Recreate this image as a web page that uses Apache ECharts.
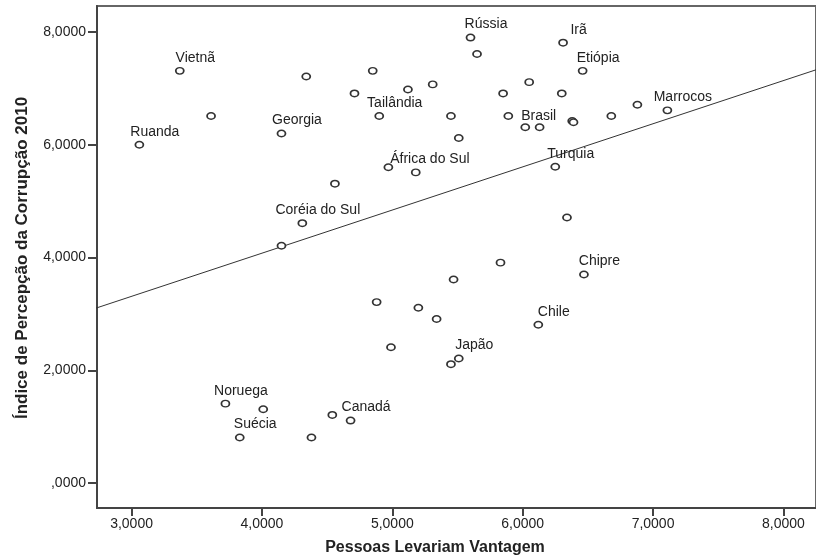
<!DOCTYPE html>
<html>
<head>
<meta charset="utf-8">
<script src="https://cdn.jsdelivr.net/npm/echarts@6/dist/echarts.min.js"></script>
<style>
  html, body { margin: 0; padding: 0; background: #fff; }
  #chart { width: 816px; height: 558px; }
</style>
</head>
<body>
<div id="chart"></div>
<script>
// ---- Data ----
const countryNames = [
  'Ruanda', 'Vietnã', '', 'Georgia', '', '', '', 'Tailândia', '', '',
  'África do Sul', '', '', 'Coréia do Sul', '', '', '', 'Rússia', '', '',
  '', 'Brasil', '', '', '', 'Irã', 'Etiópia', '', '', '',
  '', 'Marrocos', 'Turquia', '', 'Chipre', '', '', 'Chile', '', '',
  '', '', 'Japão', '', 'Noruega', '', 'Suécia', '', '', 'Canadá'
];
const xValues = [
  3.06, 3.37, 3.61, 4.15, 4.34, 4.71, 4.85, 4.90, 5.12, 5.31,
  4.97, 5.18, 4.56, 4.31, 4.15, 5.45, 5.51, 5.60, 5.65, 5.85,
  6.05, 5.89, 6.02, 6.13, 6.30, 6.31, 6.46, 6.38, 6.39, 6.68,
  6.88, 7.11, 6.25, 6.34, 6.47, 5.83, 5.47, 6.12, 4.88, 5.20,
  5.34, 4.99, 5.51, 5.45, 3.72, 4.01, 3.83, 4.38, 4.54, 4.68
];
const yValues = [
  6.00, 7.31, 6.51, 6.20, 7.21, 6.91, 7.31, 6.51, 6.98, 7.07,
  5.60, 5.51, 5.31, 4.61, 4.21, 6.51, 6.12, 7.90, 7.61, 6.91,
  7.11, 6.51, 6.31, 6.31, 6.91, 7.81, 7.31, 6.42, 6.40, 6.51,
  6.71, 6.61, 5.61, 4.71, 3.70, 3.91, 3.61, 2.81, 3.21, 3.11,
  2.91, 2.41, 2.21, 2.11, 1.41, 1.31, 0.81, 0.81, 1.21, 1.11
];
// Fit line (read at its two ends, clipped by the axes)
const fitX = [2.5, 8.5];
const fitY = [2.93, 7.52];
// Tick values and labels
const xTickValues = [3, 4, 5, 6, 7, 8];
const xTickLabels = ['3,0000', '4,0000', '5,0000', '6,0000', '7,0000', '8,0000'];
const yTickValues = [0, 2, 4, 6, 8];
const yTickLabels = [',0000', '2,0000', '4,0000', '6,0000', '8,0000'];
const xTitle = 'Pessoas Levariam Vantagem';
const yTitle = 'Índice de Percepção da Corrupção 2010';

// ---- Styling ----
const FONT = "'Liberation Sans', Arial, sans-serif";
const TXT = '#222';
const AXIS = '#444';
// default: label above the point, shifted right by ~15px (via left padding)
const defaultLabel = { show: true, position: 'top', distance: 2, padding: [0, 0, 0, 31] };
const specialLabel = {
  'Brasil': { show: true, position: 'right', distance: 8, padding: [0, 0, 4, 0] },
  'África do Sul': { show: true, position: [6.7, -3.75], align: 'left', verticalAlign: 'middle' }
};

const points = xValues.map((x, i) => {
  const name = countryNames[i];
  const p = { value: [x, yValues[i]], name: name };
  if (name) p.label = specialLabel[name] || defaultLabel;
  return p;
});

function fmt(list, vals) {
  return v => { const i = vals.findIndex(t => Math.abs(t - v) < 1e-9); return i >= 0 ? list[i] : ''; };
}

const chart = echarts.init(document.getElementById('chart'), null, { renderer: 'canvas' });
chart.setOption({
  animation: false,
  backgroundColor: '#fff',
  grid: {
    left: 97, top: 6, right: -3, bottom: 50,
    show: true, borderColor: '#666', borderWidth: 2, backgroundColor: 'transparent'
  },
  xAxis: {
    type: 'value', min: 2.735, max: 8.25,
    splitLine: { show: false },
    axisLine: { show: true, onZero: false, lineStyle: { color: AXIS, width: 2 } },
    axisTick: { show: true, length: 8, customValues: xTickValues, lineStyle: { color: AXIS, width: 2 } },
    axisLabel: {
      customValues: xTickValues, formatter: fmt(xTickLabels, xTickValues),
      fontSize: 14, color: TXT, fontFamily: FONT, margin: 9
    }
  },
  yAxis: {
    type: 'value', min: -0.44, max: 8.46,
    splitLine: { show: false },
    axisLine: { show: true, onZero: false, lineStyle: { color: AXIS, width: 2 } },
    axisTick: { show: true, length: 9, customValues: yTickValues, lineStyle: { color: AXIS, width: 2 } },
    axisLabel: {
      customValues: yTickValues, formatter: fmt(yTickLabels, yTickValues),
      fontSize: 14, color: TXT, fontFamily: FONT, margin: 11
    }
  },
  graphic: [
    {
      type: 'text', x: 435, y: 548,
      style: { text: xTitle, font: "bold 16px 'Liberation Sans', Arial, sans-serif", fill: TXT, align: 'center', verticalAlign: 'middle' }
    },
    {
      type: 'text', x: 22, y: 258, rotation: Math.PI / 2,
      style: { text: yTitle, font: "bold 17px 'Liberation Sans', Arial, sans-serif", fill: TXT, align: 'center', verticalAlign: 'middle' }
    }
  ],
  series: [
    {
      type: 'line',
      data: fitX.map((x, i) => [x, fitY[i]]),
      symbol: 'none', clip: true, silent: true,
      lineStyle: { color: '#333', width: 1 },
      z: 2
    },
    {
      type: 'scatter',
      data: points,
      symbol: 'circle', symbolSize: [8, 6.5],
      itemStyle: { color: '#fff', borderColor: '#333', borderWidth: 1.6, opacity: 1 },
      label: { color: TXT, fontSize: 14, fontFamily: FONT, formatter: '{b}' },
      z: 3
    }
  ]
});
</script>
</body>
</html>
